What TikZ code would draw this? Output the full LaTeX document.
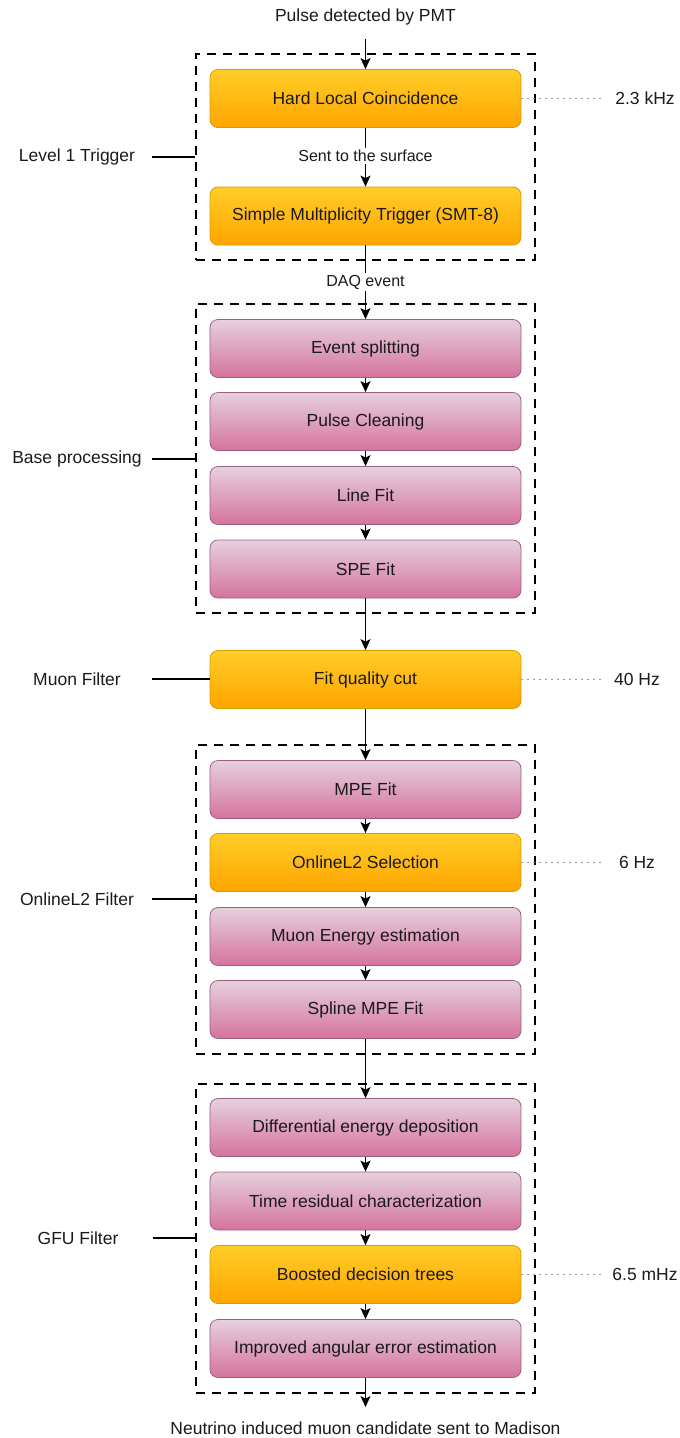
\documentclass[tikz,border=0pt]{standalone}
\usepackage{fontspec}
\setmainfont{Liberation Sans}
\usetikzlibrary{arrows.meta}
\definecolor{txt}{HTML}{1A1A1A}
\definecolor{orTop}{HTML}{FFCD28}
\definecolor{orBot}{HTML}{FFA500}
\definecolor{orLine}{HTML}{D79B00}
\definecolor{pkTop}{HTML}{E6D0DE}
\definecolor{pkBot}{HTML}{D5739D}
\definecolor{pkLine}{HTML}{996185}
\tikzset{
  stage/.style={rounded corners=8pt, line width=0.8pt, minimum width=311pt,
    minimum height=58pt, inner sep=0pt, font=\fontsize{17.5}{20}\selectfont,
    text=txt},
  orange/.style={stage, draw=orLine, top color=orTop, bottom color=orBot},
  pink/.style={stage, draw=pkLine, top color=pkTop, bottom color=pkBot},
  group/.style={draw=black, line width=1.4pt, dash pattern=on 9pt off 7pt,
    minimum width=339pt, inner sep=0pt},
  flow/.style={draw=black, line width=1.3pt,
    -{Stealth[length=11pt, width=10pt, inset=2.5pt]}},
  side/.style={font=\fontsize{17.5}{20}\selectfont, text=txt, inner sep=0pt,
    minimum width=150pt},
  rate/.style={font=\fontsize{17.5}{20}\selectfont, text=txt, inner sep=0pt},
  plain/.style={font=\fontsize{17.5}{20}\selectfont, text=txt},
  small/.style={font=\fontsize{16}{18}\selectfont, text=txt, fill=white,
    inner sep=2pt},
  tie/.style={draw=black, line width=1.3pt},
  dots/.style={draw=gray!80, line width=1pt, dash pattern=on 2pt off 4pt},
}
\begin{document}
\begin{tikzpicture}[x=1pt, y=-1pt]
\useasboundingbox (0,0) rectangle (680,1438);

% dashed groups
\node[group, minimum height=206pt] (g1) at (365.5,157) {};
\node[group, minimum height=309pt] (g2) at (365.5,458.5) {};
\node[group, minimum height=309pt] (g3) at (365.5,899.5) {};
\node[group, minimum height=309pt] (g4) at (365.5,1238.5) {};

% stages
\node[orange] (hlc) at (365.5,98.5) {Hard Local Coincidence};
\node[orange] (smt) at (365.5,216) {Simple Multiplicity Trigger (SMT-8)};
\node[pink] (split) at (365.5,348.5) {Event splitting};
\node[pink] (clean) at (365.5,421.5) {Pulse Cleaning};
\node[pink] (line) at (365.5,495.5) {Line Fit};
\node[pink] (spe) at (365.5,569) {SPE Fit};
\node[orange] (fqc) at (365.5,679.5) {Fit quality cut};
\node[pink] (mpe) at (365.5,789.5) {MPE Fit};
\node[orange] (ol2) at (365.5,862.5) {OnlineL2 Selection};
\node[pink] (energy) at (365.5,936.5) {Muon Energy estimation};
\node[pink] (spline) at (365.5,1009.5) {Spline MPE Fit};
\node[pink] (dedx) at (365.5,1127.5) {Differential energy deposition};
\node[pink] (tres) at (365.5,1201) {Time residual characterization};
\node[orange] (bdt) at (365.5,1274.5) {Boosted decision trees};
\node[pink] (ang) at (365.5,1348.5) {Improved angular error estimation};

% start and end
\node[plain] (pulse) at (365.5,17) {Pulse detected by PMT};
\node[plain] (madison) at (365.5,1428) {Neutrino induced muon candidate sent to Madison};

% flow
\draw[flow, shorten <=10pt] (pulse) -- (hlc);
\draw[flow] (hlc) -- node[small, pos=0.48] {Sent to the surface} (smt);
\draw[flow] (smt) -- node[small, pos=0.5] {DAQ event} (split);
\draw[flow] (split) -- (clean);
\draw[flow] (clean) -- (line);
\draw[flow] (line) -- (spe);
\draw[flow] (spe) -- (fqc);
\draw[flow] (fqc) -- (mpe);
\draw[flow] (mpe) -- (ol2);
\draw[flow] (ol2) -- (energy);
\draw[flow] (energy) -- (spline);
\draw[flow] (spline) -- (dedx);
\draw[flow] (dedx) -- (tres);
\draw[flow] (tres) -- (bdt);
\draw[flow] (bdt) -- (ang);
\draw[flow, shorten >=11pt] (ang) -- (madison);

% level labels
\node[side] (l1) at (77,157) {Level 1 Trigger};
\node[side] (l2) at (77,459) {Base processing};
\node[side] (l3) at (77,679) {Muon Filter};
\node[side] (l4) at (77,899) {OnlineL2 Filter};
\node[side] (l5) at (78,1238) {GFU Filter};
\draw[tie] (l1.east) -- (l1.east -| g1.west);
\draw[tie] (l2.east) -- (l2.east -| g2.west);
\draw[tie] (l3.east) -- (l3.east -| fqc.west);
\draw[tie] (l4.east) -- (l4.east -| g3.west);
\draw[tie] (l5.east) -- (l5.east -| g4.west);

% rates
\node[rate, minimum width=80pt] (r1) at (645,98.5) {2.3 kHz};
\node[rate, minimum width=64pt] (r2) at (637,679.5) {40 Hz};
\node[rate, minimum width=64pt] (r3) at (637,862.5) {6 Hz};
\node[rate, minimum width=80pt] (r4) at (645,1274.5) {6.5 mHz};
\draw[dots] (hlc.east) -- (r1.west);
\draw[dots] (fqc.east) -- (r2.west);
\draw[dots] (ol2.east) -- (r3.west);
\draw[dots] (bdt.east) -- (r4.west);
\end{tikzpicture}
\end{document}
